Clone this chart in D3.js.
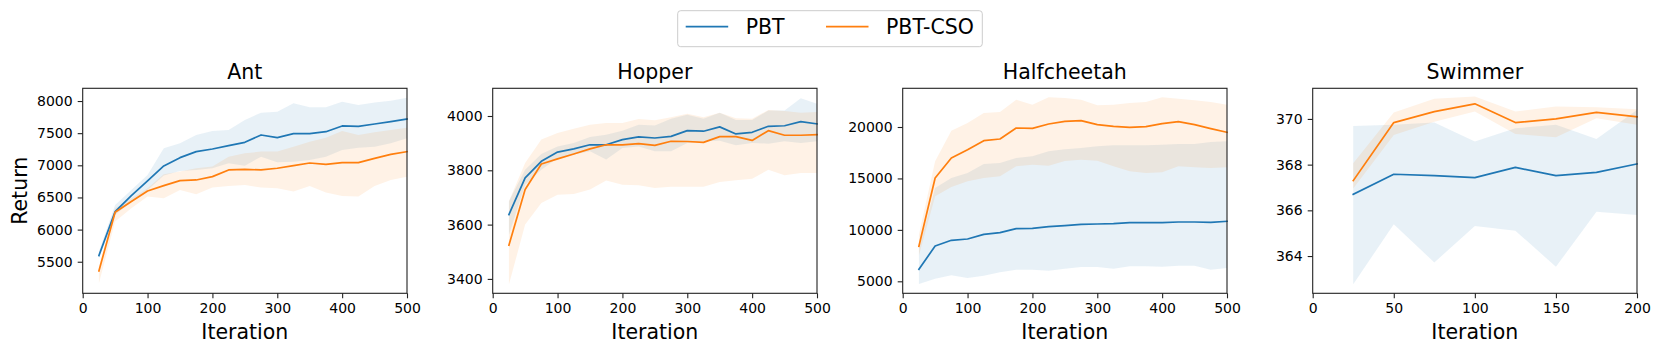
<!DOCTYPE html>
<html>
<head>
<meta charset="utf-8">
<script src="https://cdn.jsdelivr.net/npm/d3@7"></script>
<style>
  html, body { margin: 0; padding: 0; background: #fff; }
  svg { display: block; font-family: "DejaVu Sans", sans-serif; }
</style>
</head>
<body>
<svg id="chart" width="1661" height="354"></svg>
<script>
// ---------- DATA ----------
const iterations = [25,50,75,100,125,150,175,200,225,250,275,300,325,350,375,400,425,450,475,500];
const swimmerIterations = [25,50,75,100,125,150,175,200];

const envNames = ["Ant", "Hopper", "Halfcheetah", "Swimmer"];
const seriesNames = ["PBT", "PBT-CSO"];

const antPbtMean = [5596,6280,6529,6757,6990,7119,7213,7254,7306,7358,7472,7430,7492,7492,7523,7612,7606,7643,7679,7720];
const antPbtLow  = [5545,6228,6436,6617,6840,6912,6928,6954,7031,6995,7135,7047,7057,7083,7135,7239,7275,7290,7342,7420];
const antPbtHigh = [5659,6384,6617,6850,7264,7342,7472,7534,7549,7705,7819,7834,7964,7902,7902,7990,7938,7979,8005,8052];
const antCsoMean = [5358,6270,6436,6601,6684,6762,6772,6824,6928,6938,6928,6954,6995,7036,7016,7042,7042,7109,7171,7213];
const antCsoLow  = [5166,6125,6332,6513,6487,6617,6550,6653,6679,6695,6653,6643,6591,6679,6576,6524,6514,6679,6772,6824];
const antCsoHigh = [5425,6332,6487,6643,6860,6902,6954,6980,7135,7187,7213,7213,7290,7368,7430,7534,7472,7513,7549,7586];

const hopperPbtMean = [3637,3772,3833,3867,3879,3894,3894,3913,3923,3919,3925,3946,3944,3960,3934,3940,3962,3964,3979,3971];
const hopperPbtLow  = [3563,3747,3802,3845,3858,3870,3840,3882,3888,3870,3870,3901,3907,3909,3892,3901,3898,3907,3901,3907];
const hopperPbtHigh = [3686,3802,3860,3888,3901,3923,3931,3946,3968,3965,3990,4005,3990,4012,3985,3985,4020,4020,4065,4045];
const hopperCsoMean = [3524,3729,3823,3842,3860,3879,3894,3894,3898,3892,3907,3906,3903,3924,3924,3910,3946,3929,3929,3931];
const hopperCsoLow  = [3379,3600,3680,3710,3713,3729,3762,3747,3745,3735,3739,3739,3739,3757,3763,3769,3802,3782,3790,3790];
const hopperCsoHigh = [3686,3827,3913,3937,3953,3968,3974,3974,3989,3984,3995,4008,3995,4012,3992,3990,4022,4018,4012,4015];

const hcPbtMean = [6165,8433,8984,9114,9567,9729,10118,10150,10312,10410,10540,10572,10604,10701,10701,10701,10766,10766,10734,10831];
const hcPbtLow  = [4740,5258,5582,5323,5550,5874,6133,6133,6036,6230,6392,6392,6230,6457,6457,6424,6522,6522,6133,6295];
const hcPbtHigh = [8200,14071,15043,15529,16404,16501,16987,17149,17635,17830,17959,18121,18218,18218,18218,18283,18348,18348,18542,18607];
const hcCsoMean = [8401,15043,16987,17797,18672,18834,19903,19870,20292,20551,20616,20227,20065,19968,20032,20324,20518,20227,19838,19482];
const hcCsoLow  = [7500,13261,14168,14719,15043,15205,16177,16339,16242,16690,16825,16728,16177,15691,15529,15594,16177,16080,16015,16080];
const hcCsoHigh = [9535,16663,19644,20389,21361,21458,22657,22171,22884,22819,22657,22106,22171,22333,22430,22884,22754,22592,22430,22171];

const swPbtMean = [366.70,367.58,367.52,367.43,367.88,367.52,367.66,368.03];
const swPbtLow  = [362.77,365.39,363.72,365.31,365.11,363.53,365.94,365.80];
const swPbtHigh = [369.69,369.74,369.84,369.01,369.59,369.74,369.12,370.39];
const swCsoMean = [367.30,369.84,370.32,370.66,369.84,370.00,370.29,370.09];
const swCsoLow  = [366.96,369.30,369.88,370.32,369.34,369.20,370.03,369.74];
const swCsoHigh = [368.06,370.28,370.88,370.98,370.32,370.54,370.51,370.42];

const xDomains = [[0,500],[0,500],[0,500],[0,200]];
const yDomains = [[5009,8198],[3347,4102],[3834,23762],[362.37,371.34]];
const xTickValues = [[0,100,200,300,400,500],[0,100,200,300,400,500],[0,100,200,300,400,500],[0,50,100,150,200]];
const yTickValues = [[5500,6000,6500,7000,7500,8000],[3400,3600,3800,4000],[5000,10000,15000,20000],[364,366,368,370]];

// ---------- LAYOUT / STYLE ----------
const colors = ["#1f77b4", "#ff7f0e"];
const panelLeft = [82.7, 492.7, 902.7, 1312.7];
const panelW = 324.3, panelTop = 88.3, panelH = 205;

const panels = [
  {x: iterations, s: [[antPbtMean, antPbtLow, antPbtHigh], [antCsoMean, antCsoLow, antCsoHigh]]},
  {x: iterations, s: [[hopperPbtMean, hopperPbtLow, hopperPbtHigh], [hopperCsoMean, hopperCsoLow, hopperCsoHigh]]},
  {x: iterations, s: [[hcPbtMean, hcPbtLow, hcPbtHigh], [hcCsoMean, hcCsoLow, hcCsoHigh]]},
  {x: swimmerIterations, s: [[swPbtMean, swPbtLow, swPbtHigh], [swCsoMean, swCsoLow, swCsoHigh]]}
];

const svg = d3.select("#chart");

panels.forEach((p, i) => {
  const g = svg.append("g").attr("transform", `translate(${panelLeft[i]},${panelTop})`);
  const x = d3.scaleLinear().domain(xDomains[i]).range([0, panelW]);
  const y = d3.scaleLinear().domain(yDomains[i]).range([panelH, 0]);

  // bands
  p.s.forEach((ser, k) => {
    const rows = p.x.map((xv, j) => ({x: xv, m: ser[0][j], lo: ser[1][j], hi: ser[2][j]}));
    g.append("path").datum(rows)
      .attr("d", d3.area().x(d => x(d.x)).y0(d => y(d.lo)).y1(d => y(d.hi)))
      .attr("fill", colors[k]).attr("fill-opacity", 0.1).attr("stroke", "none");
  });
  // lines
  p.s.forEach((ser, k) => {
    const rows = p.x.map((xv, j) => ({x: xv, m: ser[0][j]}));
    g.append("path").datum(rows)
      .attr("d", d3.line().x(d => x(d.x)).y(d => y(d.m)))
      .attr("fill", "none").attr("stroke", colors[k]).attr("stroke-width", 1.7)
      .attr("stroke-linejoin", "round").attr("stroke-linecap", "square");
  });

  // frame
  g.append("rect").attr("x", 0).attr("y", 0).attr("width", panelW).attr("height", panelH)
    .attr("fill", "none").attr("stroke", "#222").attr("stroke-width", 1.1);

  // axes
  const xa = g.append("g").attr("transform", `translate(0,${panelH})`)
    .call(d3.axisBottom(x).tickValues(xTickValues[i]).tickSize(5).tickPadding(5).tickFormat(d3.format("d")));
  const ya = g.append("g")
    .call(d3.axisLeft(y).tickValues(yTickValues[i]).tickSize(5).tickPadding(5).tickFormat(d3.format("d")));
  [xa, ya].forEach(a => {
    a.select(".domain").remove();
    a.selectAll("line").attr("stroke", "#222").attr("stroke-width", 1.1);
    a.selectAll("text").attr("font-size", 14).attr("fill", "#000").attr("font-family", "DejaVu Sans");
  });

  // title
  g.append("text").attr("x", panelW / 2).attr("y", 79 - panelTop)
    .attr("text-anchor", "middle").attr("font-size", 20.5).attr("fill", "#000").text(envNames[i]);
  // x label
  g.append("text").attr("x", panelW / 2).attr("y", 339.3 - panelTop)
    .attr("text-anchor", "middle").attr("font-size", 20.5).attr("fill", "#000").text("Iteration");
});

// y label
svg.append("text").attr("transform", `translate(26.7,${panelTop + panelH / 2}) rotate(-90)`)
  .attr("text-anchor", "middle").attr("font-size", 20.5).attr("fill", "#000").text("Return");

// legend
const lg = svg.append("g");
lg.append("rect").attr("x", 677.7).attr("y", 10.7).attr("width", 304.6).attr("height", 36)
  .attr("rx", 3).attr("fill", "#fff").attr("fill-opacity", 0.8).attr("stroke", "#ccc").attr("stroke-width", 1);
const legX = [685.7, 826];
seriesNames.forEach((n, k) => {
  lg.append("line").attr("x1", legX[k]).attr("x2", legX[k] + 42.5).attr("y1", 26.7).attr("y2", 26.7)
    .attr("stroke", colors[k]).attr("stroke-width", 1.7);
  lg.append("text").attr("x", legX[k] + 60).attr("y", 34.3).attr("font-size", 20.5).attr("fill", "#000").text(n);
});
</script>
</body>
</html>
